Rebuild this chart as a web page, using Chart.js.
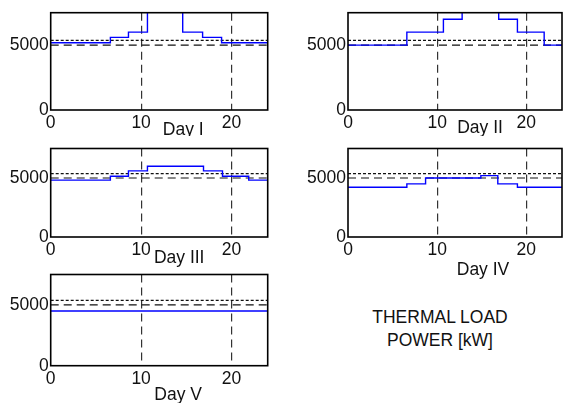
<!DOCTYPE html>
<html>
<head>
<meta charset="utf-8">
<script src="https://cdn.jsdelivr.net/npm/chart.js@4/dist/chart.umd.min.js"></script>
<style>
  body { margin: 0; background: #fff; }
  #wrap { position: relative; width: 565px; height: 403px; overflow: hidden; }
  #wrap canvas { position: absolute; }
  #note {
    position: absolute; left: 340px; top: 306px; width: 200px;
    font: 17.5px "Liberation Sans", Arial, sans-serif; color: #111;
    text-align: center; line-height: 23px;
  }
</style>
</head>
<body>
<div id="wrap">
  <canvas id="day1"></canvas>
  <canvas id="day2"></canvas>
  <canvas id="day3"></canvas>
  <canvas id="day4"></canvas>
  <canvas id="day5"></canvas>
  <div id="note">THERMAL LOAD<br>POWER [kW]</div>
</div>
<script>
// hour where each load step starts, and the load held from there (kW)
const hoursI = [0, 6.6, 8.6, 10.7, 14.6, 16.8, 18.9, 24];
const loadI = [5180, 5600, 6000, 8000, 6000, 5600, 5180, 5180];
const hoursII = [0, 6.6, 10.7, 12.8, 16.9, 19.0, 22.0, 24];
const loadII = [5000, 6000, 7000, 8000, 7000, 6000, 5000, 5000];
const hoursIII = [0, 6.6, 8.6, 10.7, 16.9, 19.0, 21.9, 24];
const loadIII = [4820, 5150, 5600, 6000, 5600, 5150, 4820, 4820];
const hoursIV = [0, 6.6, 8.7, 14.9, 16.8, 19.0, 24];
const loadIV = [4220, 4500, 5000, 5200, 4500, 4220, 4220];
const hoursV = [0, 24];
const loadV = [4500, 4500];

const refHours = [0, 24];
const nominalLoad = [5000, 5000];
const upperLoad = [5370, 5370];

const xTicks = [0, 10, 20];
const yTicks = [0, 5000];
const dayNames = ["Day I", "Day II", "Day III", "Day IV", "Day V"];

const FONT = '"Liberation Sans", Arial, sans-serif';

// box round the plot area + the day name under it
const framePlugin = {
  id: "frame",
  afterDraw(chart, args, opts) {
    const { ctx, chartArea: a } = chart;
    ctx.save();
    ctx.strokeStyle = "#000";
    ctx.lineWidth = 1.6;
    ctx.strokeRect(a.left, a.top, a.right - a.left, a.bottom - a.top);
    ctx.font = "17.5px " + FONT;
    ctx.fillStyle = "#111";
    ctx.textAlign = "center";
    ctx.textBaseline = "middle";
    ctx.fillText(opts.text, (a.left + a.right) / 2 + opts.dx, a.bottom + opts.dy);
    ctx.restore();
  },
};

function pts(xs, ys) {
  return xs.map((x, i) => ({ x: x, y: ys[i] }));
}

// box: canvas position/size; plot: chart area inside the page
function makeDay(id, hours, load, box, plot, label) {
  const el = document.getElementById(id);
  el.width = box.w;
  el.height = box.h;
  el.style.left = box.x + "px";
  el.style.top = box.y + "px";

  new Chart(el, {
    type: "line",
    data: {
      datasets: [
        {
          data: pts(hours, load),
          stepped: "before", // hold each value until the next hour
          borderColor: "#0000ff",
          borderWidth: 1.4,
          pointRadius: 0,
        },
        {
          data: pts(refHours, nominalLoad),
          borderColor: "#111",
          borderWidth: 1.2,
          borderDash: [8, 5],
          pointRadius: 0,
        },
        {
          data: pts(refHours, upperLoad),
          borderColor: "#111",
          borderWidth: 1.2,
          borderDash: [3, 2],
          pointRadius: 0,
        },
      ],
    },
    options: {
      responsive: false,
      animation: false,
      events: [],
      layout: {
        padding: { top: plot.top - box.y, right: box.x + box.w - plot.right, left: 0, bottom: 0 },
      },
      plugins: {
        legend: { display: false },
        tooltip: { enabled: false },
        frame: label,
      },
      scales: {
        x: {
          type: "linear",
          min: 0,
          max: 24,
          afterBuildTicks: (s) => { s.ticks = xTicks.map((v) => ({ value: v })); },
          afterFit: (s) => { s.height = box.y + box.h - plot.bottom; },
          ticks: {
            color: "#111",
            font: { size: 17.5, family: FONT },
            padding: 3,
            maxRotation: 0,
            callback: (v) => String(v),
          },
          grid: {
            drawTicks: false,
            lineWidth: 1.2,
            color: (c) => (c.tick && c.tick.value > 0 ? "#333" : "rgba(0,0,0,0)"),
          },
          border: { display: false, dash: [8, 5] },
        },
        y: {
          min: 0,
          max: 7500,
          afterBuildTicks: (s) => { s.ticks = yTicks.map((v) => ({ value: v })); },
          afterFit: (s) => { s.width = plot.left - box.x; },
          ticks: {
            color: "#111",
            font: { size: 17.5, family: FONT },
            padding: 2,
            callback: (v) => String(v),
          },
          grid: { display: false, drawTicks: false },
          border: { display: false },
        },
      },
    },
    plugins: [framePlugin],
  });
}

makeDay("day1", hoursI, loadI,
  { x: 0, y: 0, w: 283, h: 136 },
  { left: 50.7, right: 267.7, top: 12.7, bottom: 110 },
  { text: dayNames[0], dx: 24, dy: 20 });
makeDay("day2", hoursII, loadII,
  { x: 290, y: 0, w: 275, h: 136 },
  { left: 348, right: 562, top: 12.7, bottom: 110 },
  { text: dayNames[1], dx: 25, dy: 18 });
makeDay("day3", hoursIII, loadIII,
  { x: 0, y: 136, w: 283, h: 132 },
  { left: 50.7, right: 267.7, top: 141, bottom: 237 },
  { text: dayNames[2], dx: 20, dy: 21 });
makeDay("day4", hoursIV, loadIV,
  { x: 290, y: 136, w: 275, h: 145 },
  { left: 348, right: 562, top: 141, bottom: 237 },
  { text: dayNames[3], dx: 28, dy: 33 });
makeDay("day5", hoursV, loadV,
  { x: 0, y: 262, w: 283, h: 141 },
  { left: 50.7, right: 267.7, top: 268.3, bottom: 365.7 },
  { text: dayNames[4], dx: 19, dy: 29 });
</script>
</body>
</html>
